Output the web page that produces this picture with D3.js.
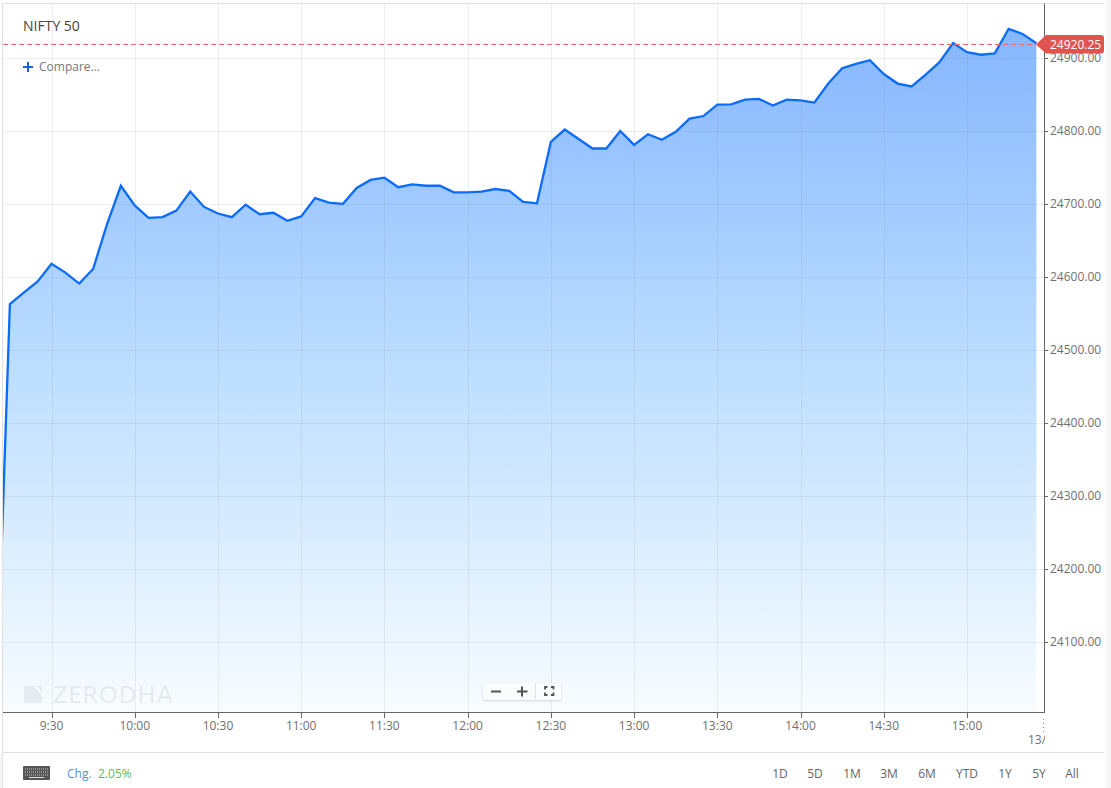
<!DOCTYPE html>
<html><head><meta charset="utf-8">
<script src="https://cdn.jsdelivr.net/npm/d3@7/dist/d3.min.js"></script>
<style>
html,body{margin:0;padding:0;background:#fff;overflow:hidden}
svg{display:block}
text{font-family:"Open Sans",sans-serif}
</style></head><body>
<svg id="c" width="1111" height="788"></svg>
<script>
const startMinute = 9*60+10;
const stepMinutes = 5;
const values = [24000,24563,24578.5,24594,24618,24606,24591,24611,24672,24725,24698,24681,24682,24691,24717,24696,24687,24682,24699,24686,24688,24677,24683,24708,24702,24700,24722,24733,24736,24723,24727,24725,24725,24716,24716,24717,24720.5,24718,24703,24701,24785,24802,24789,24776,24776,24800,24781,24795.5,24788,24799,24817,24820.5,24836,24836.6,24843,24844,24835,24843,24842,24839,24865,24886,24892,24897,24878,24865,24861,24877,24894,24920.5,24908,24904.5,24906.4,24940,24933,24920.25];
const yTicks = [24100,24200,24300,24400,24500,24600,24700,24800,24900];
const xTickMinutes = [570,600,630,660,690,720,750,780,810,840,870,900];
const xTickLabels = ["9:30","10:00","10:30","11:00","11:30","12:00","12:30","13:00","13:30","14:00","14:30","15:00"];
const ranges = ["1D","5D","1M","3M","6M","YTD","1Y","5Y","All"];
const rangeX = [780,815,852,889,927,967,1005,1039,1072];
const lastValue = 24920.25;
const title = "NIFTY 50";

const svg = d3.select("#c");
const x = d3.scaleLinear().domain([570,900]).range([51.5,967]);
const y = d3.scaleLinear().domain([24900,24100]).range([58,642]);
const L=3, T=3.5, R=1044.5, B=712.5;
const pts = values.map((v,i)=>[startMinute+i*stepMinutes,v]);

const defs = svg.append("defs");
const g = defs.append("linearGradient").attr("id","fill").attr("gradientUnits","userSpaceOnUse")
  .attr("x1",0).attr("y1",y(d3.max(values))).attr("x2",0).attr("y2",B);
g.append("stop").attr("offset",0).attr("stop-color","#85b6ff");
g.append("stop").attr("offset",0.5).attr("stop-color","#bddeff");
g.append("stop").attr("offset",1).attr("stop-color","#f8fcff");
defs.append("clipPath").attr("id","plot").append("rect").attr("x",L).attr("y",T).attr("width",R-L).attr("height",B-T);
defs.append("clipPath").attr("id","dt").append("rect").attr("x",1020).attr("y",730).attr("width",25).attr("height",20);
const sh = defs.append("filter").attr("id","sh").attr("x","-10%").attr("y","-20%").attr("width","120%").attr("height","150%");
sh.append("feDropShadow").attr("dx",0).attr("dy",1).attr("stdDeviation",1).attr("flood-color","#000").attr("flood-opacity",.14);

// frame
svg.append("rect").attr("x",1106).attr("y",0).attr("width",5).attr("height",788).attr("fill","#f6f6f6");
svg.append("path").attr("d","M2.5 788V3.5H1104M2.5 752.5H1104").attr("fill","none").attr("stroke","#dfdfdf");
svg.append("rect").attr("x",0).attr("y",753).attr("width",2).attr("height",35).attr("fill","#f6f6f6");

// area
const clip = svg.append("g").attr("clip-path","url(#plot)");
clip.append("path").datum(pts).attr("fill","url(#fill)")
  .attr("d",d3.area().x(d=>x(d[0])).y0(B+80).y1(d=>y(d[1])));

// grid
const grid = svg.append("g");
grid.selectAll(".gy").data(yTicks).join("line").attr("x1",L).attr("x2",R)
  .attr("y1",d=>Math.round(y(d))+.5).attr("y2",d=>Math.round(y(d))+.5).attr("stroke","#8a8a8a").attr("stroke-opacity",.14);
grid.selectAll(".gx").data(xTickMinutes).join("line").attr("y1",T).attr("y2",B)
  .attr("x1",d=>Math.round(x(d))+.5).attr("x2",d=>Math.round(x(d))+.5).attr("stroke","#8a8a8a").attr("stroke-opacity",.14);

// watermark
const wm = svg.append("g").attr("fill","#000").attr("fill-opacity",.06);
wm.append("text").attr("x",53).attr("y",702.5).attr("font-size",23).attr("font-weight",600)
  .attr("textLength",120).attr("lengthAdjust","spacingAndGlyphs").text("ZERODHA");
wm.append("path").attr("d","M24 686H34L42 697V703H24ZM37 686H42V693Z");

// line
clip.append("path").datum(pts).attr("fill","none").attr("stroke","#0b6cfb").attr("stroke-width",2.3).attr("stroke-linejoin","miter")
  .attr("d",d3.line().x(d=>x(d[0])).y(d=>y(d[1])));

// last price
svg.append("line").attr("x1",L).attr("x2",1037).attr("y1",44.5).attr("y2",44.5)
  .attr("stroke","#e96a6a").attr("stroke-width",1).attr("stroke-dasharray","5 3");

// axes
const axisX = svg.append("g");
axisX.append("line").attr("x1",L).attr("x2",R).attr("y1",712.5).attr("y2",712.5).attr("stroke","#666").attr("stroke-width",1);
axisX.selectAll(".t").data(xTickMinutes).join("line").attr("y1",712).attr("y2",718)
  .attr("x1",d=>Math.round(x(d))+.5).attr("x2",d=>Math.round(x(d))+.5).attr("stroke","#666");
axisX.selectAll("text").data(xTickMinutes).join("text").attr("x",d=>x(d)).attr("y",730).attr("text-anchor","middle")
  .attr("font-size",12).attr("fill","#707070").text((d,i)=>xTickLabels[i]);
svg.append("line").attr("x1",1043.5).attr("x2",1043.5).attr("y1",719).attr("y2",732).attr("stroke","#888").attr("stroke-dasharray","1 3");
svg.append("text").attr("x",1028).attr("y",744).attr("font-size",12).attr("fill","#707070").attr("clip-path","url(#dt)").text("13/09");

const axisY = svg.append("g");
axisY.append("line").attr("x1",R).attr("x2",R).attr("y1",T).attr("y2",B+.5).attr("stroke","#666");
axisY.selectAll("line.t").data(yTicks).join(e=>e.append("line").attr("class","t")).attr("x1",R).attr("x2",1048)
  .attr("y1",d=>Math.round(y(d))+.5).attr("y2",d=>Math.round(y(d))+.5).attr("stroke","#666");
axisY.selectAll("text").data(yTicks).join("text").attr("x",1050).attr("y",d=>y(d)+4).attr("font-size",12).attr("fill","#707070")
  .text(d=>d3.format(".2f")(d));

// price tag
svg.append("path").attr("d","M1036 44.5L1046 35H1101a3 3 0 0 1 3 3V50.5a3 3 0 0 1-3 3H1046Z").attr("fill","#e05450");
svg.append("text").attr("x",1050).attr("y",48.5).attr("font-size",12).attr("fill","#fff").text(d3.format(".2f")(lastValue));

// header text
svg.append("text").attr("x",23).attr("y",31).attr("font-size",14).attr("fill","#444").text(title);
svg.append("path").attr("d","M23 67H33M28 62V72").attr("stroke","#1a62d6").attr("stroke-width",2);
svg.append("text").attr("x",39).attr("y",71).attr("font-size",12).attr("fill","#777").text("Compare...");

// zoom control
const zc = svg.append("g");
zc.append("rect").attr("x",483).attr("y",683).attr("width",78).attr("height",17).attr("rx",2).attr("fill","#fbfcfe").attr("filter","url(#sh)");
zc.append("path").attr("d","M491 691.5H501M517 691.5H527.5M522 686.5V696.5").attr("fill","none").attr("stroke","#555").attr("stroke-width",2);
zc.append("line").attr("x1",535.5).attr("x2",535.5).attr("y1",683).attr("y2",699).attr("stroke","#e0e0e0");
zc.append("path").attr("d","M545 689.5V687H547.5M551 687H553.5V689.5M553.5 692.5V695H551M547.5 695H545V692.5").attr("fill","none").attr("stroke","#555").attr("stroke-width",1.8);

// footer
const kb = svg.append("g");
kb.append("rect").attr("x",23).attr("y",766).attr("width",27).attr("height",14).attr("rx",1).attr("fill","#555");
kb.append("path").attr("d","M25 769H48M25 772H48M25 775H48").attr("stroke","#ccc").attr("stroke-width",1).attr("stroke-dasharray","1 1");
kb.append("line").attr("x1",29).attr("x2",44).attr("y1",777.5).attr("y2",777.5).attr("stroke","#ddd");
svg.append("text").attr("x",67).attr("y",778).attr("font-size",12).attr("fill","#5b8fd9").text("Chg.");
svg.append("text").attr("x",98).attr("y",778).attr("font-size",12).attr("fill","#5cb85c").text("2.05%");
svg.selectAll(".rng").data(ranges).join("text").attr("class","rng").attr("x",(d,i)=>rangeX[i]).attr("y",778)
  .attr("text-anchor","middle").attr("font-size",12).attr("fill","#666").text(d=>d);
</script></body></html>
